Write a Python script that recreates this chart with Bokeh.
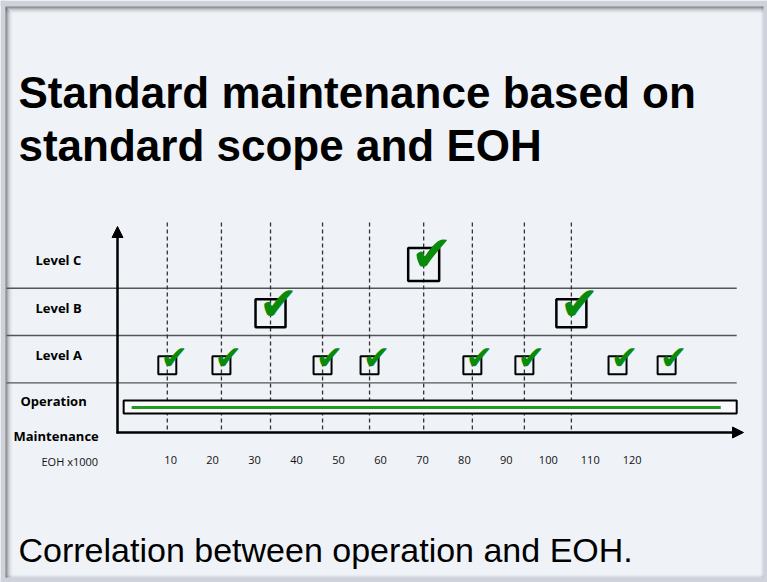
from bokeh.plotting import figure
from bokeh.models import Range1d, Arrow, NormalHead, ColumnDataSource
from bokeh.core.properties import value
from bokeh.embed import file_html
from bokeh.resources import INLINE

# ---------------- data ----------------
title_lines = ["Standard maintenance based on", "standard scope and EOH"]
subtitle = "Correlation between operation and EOH."

row_labels = ["Level C", "Level B", "Level A", "Operation", "Maintenance"]
level_codes = ["C", "B", "A"]
level_rows = [3, 2, 1]

# inspections: EOH (x1000) and maintenance level
event_eoh = [9.2, 22.1, 33.8, 46.2, 57.4, 70.3, 81.9, 94.3, 105.5, 116.5, 128.2]
event_level = ["A", "A", "B", "A", "A", "C", "A", "A", "B", "A", "A"]
event_guide = [True, True, True, True, True, True, True, True, True, False, False]

eoh_ticks = [10, 20, 30, 40, 50, 60, 70, 80, 90, 100, 110, 120]
eoh_tick_labels = ["10", "20", "30", "40", "50", "60", "70", "80", "90", "100", "110", "120"]
eoh_axis_label = "EOH x1000"

operation_span = [-1.2, 144.9]

# ---------------- layout helpers (page px -> data) ----------------
def X(px):
    return (px - 128.2) / 4.196

def Y(py):
    return (406.0 - py) / 47.3

W, H = 767, 582
BG = "#eff3f7"
GRAY = "#cfd2da"
p = figure(width=W, height=H, output_backend="svg", toolbar_location=None,
           x_range=Range1d(X(0), X(W)), y_range=Range1d(Y(H), Y(0)),
           x_axis_type=None, y_axis_type=None, min_border=0,
           background_fill_color=BG, border_fill_color=BG, outline_line_color=None)
p.grid.visible = False

# slide frame: outer gray border and inner shadow
p.quad(left=[X(0), X(0), X(763), X(0)], right=[X(W), X(5), X(W), X(W)],
       top=[Y(0), Y(0), Y(0), Y(577)], bottom=[Y(6), Y(H), Y(H), Y(H)],
       fill_color=GRAY, line_color=None)
for k, a in enumerate([0.50, 0.36, 0.24, 0.15, 0.09, 0.05, 0.02]):
    p.quad(left=X(5), right=X(763), top=Y(6 + k), bottom=Y(7 + k),
           fill_color="black", fill_alpha=a, line_color=None)
    p.quad(left=X(5 + k), right=X(6 + k), top=Y(6 + k + 1), bottom=Y(577),
           fill_color="black", fill_alpha=a, line_color=None)
for k, a in enumerate([0.10, 0.05, 0.02]):
    p.quad(left=X(762 - k), right=X(763 - k), top=Y(6), bottom=Y(577),
           fill_color="black", fill_alpha=a, line_color=None)
    p.quad(left=X(5), right=X(763), top=Y(576 - k), bottom=Y(577 - k),
           fill_color="black", fill_alpha=a, line_color=None)

# titles
p.text(x=[X(18), X(18)], y=[Y(92), Y(145)], text=title_lines,
       text_font=value("Liberation Sans"), text_font_style="bold", text_font_size="44px",
       text_color="black", text_align="left", text_baseline="middle")
p.text(x=[X(18)], y=[Y(549)], text=[subtitle], text_font=value("Liberation Sans"),
       text_font_size="34px", text_color="black", text_align="left", text_baseline="middle")

# row separators
sep_y = [r + 0.5 for r in [0, 1, 2]]
p.segment(x0=[X(6)] * 3, x1=[operation_span[1]] * 3, y0=sep_y, y1=sep_y,
          line_color="#555555", line_width=1.4)

# dashed guide lines
gx = [e for e, g in zip(event_eoh, event_guide) if g]
p.segment(x0=gx, x1=gx, y0=[Y(222)] * len(gx), y1=[Y(432)] * len(gx),
          line_color="#333333", line_width=1.3, line_dash="4 3")

# operation bar
p.quad(left=operation_span[0], right=operation_span[1], top=Y(400), bottom=Y(413),
       fill_color="#f8fafc", line_color="black", line_width=2)
p.segment(x0=operation_span[0] + 1.9, x1=operation_span[1] - 3.8, y0=Y(407), y1=Y(407),
          line_color="#1f9a1f", line_width=3)

# axes arrows
p.add_layout(Arrow(end=NormalHead(size=11, fill_color="black", line_color="black"),
                   x_start=X(117), y_start=Y(433), x_end=X(117), y_end=Y(226),
                   line_color="black", line_width=2.5))
p.add_layout(Arrow(end=NormalHead(size=11, fill_color="black", line_color="black"),
                   x_start=X(116), y_start=Y(432), x_end=X(743), y_end=Y(432),
                   line_color="black", line_width=2.5))

# boxes + checks
row_of = dict(zip(level_codes, level_rows))
box_w = {"A": 18, "B": 30, "C": 31}
box_h = {"A": 18, "B": 28, "C": 33}
box_dy = {"A": -0.13, "B": -0.03, "C": 0.0}
lw = {"A": 2.0, "B": 2.5, "C": 2.5}
chk_fs = {"A": "33px", "B": "47px", "C": "50px"}
chk_dx = {"A": 7, "B": 8, "C": 8}
chk_dy = {"A": -8, "B": -10, "C": -11}

src = ColumnDataSource(dict(
    x=event_eoh,
    y=[row_of[l] + box_dy[l] for l in event_level],
    w=[box_w[l] for l in event_level],
    h=[box_h[l] for l in event_level],
    lw=[lw[l] for l in event_level],
    fs=[chk_fs[l] for l in event_level],
    dx=[chk_dx[l] for l in event_level],
    dy=[chk_dy[l] for l in event_level],
    t=["\u2714"] * len(event_eoh),
))
p.rect(x="x", y="y", width="w", height="h", width_units="screen", height_units="screen",
       source=src, fill_color=None, line_color="black", line_width="lw")
p.text(x="x", y="y", text="t", source=src, text_font=value("DejaVu Sans"),
       text_font_size="fs", text_color="#0a8a0a", text_align="center",
       text_baseline="middle", x_offset="dx", y_offset="dy")

# row labels
lab_x = {"Level C": 35, "Level B": 35, "Level A": 35, "Operation": 20, "Maintenance": 13}
p.text(x=[X(lab_x[t]) for t in row_labels],
       y=[v + 0.09 if v > 0.5 else v for v in [3, 2, 1, Y(400), Y(435)]],
       text=row_labels, text_font=value("Open Sans"), text_font_style="bold",
       text_font_size="13px", text_color="black", text_align="left", text_baseline="middle")

# EOH tick labels
p.text(x=eoh_ticks, y=[Y(459)] * len(eoh_ticks), text=eoh_tick_labels,
       text_font=value("Open Sans"), text_font_size="11px", text_color="#111111",
       text_align="center", text_baseline="middle")
p.text(x=[X(41)], y=[Y(461)], text=[eoh_axis_label], text_font=value("Open Sans"),
       text_font_size="11px", text_color="#111111", text_align="left", text_baseline="middle")

open("out.html", "w").write(file_html(p, INLINE))
